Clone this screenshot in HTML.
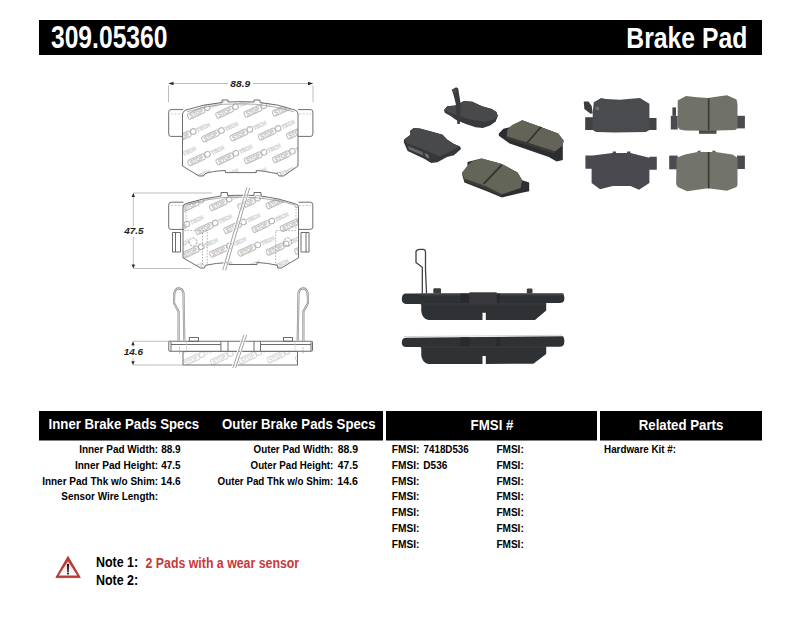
<!DOCTYPE html>
<html><head><meta charset="utf-8"><style>
html,body{margin:0;padding:0;background:#fff;width:800px;height:619px;overflow:hidden}
svg{display:block;font-family:"Liberation Sans", sans-serif}
</style></head><body>
<svg width="800" height="619" viewBox="0 0 800 619">
<rect x="39" y="20" width="723" height="35" fill="#000"/>
<text x="50.93" y="47.50" font-size="31" font-weight="bold" font-style="normal" fill="#fff" textLength="116.58" lengthAdjust="spacingAndGlyphs" >309.05360</text>
<text x="626.35" y="48.00" font-size="29" font-weight="bold" font-style="normal" fill="#fff" textLength="120.98" lengthAdjust="spacingAndGlyphs" >Brake Pad</text>
<rect x="39" y="411" width="344" height="29.5" fill="#000"/>
<rect x="386" y="411" width="211" height="29.5" fill="#000"/>
<rect x="600" y="411" width="162" height="29.5" fill="#000"/>
<text x="48.62" y="429.30" font-size="15.4" font-weight="bold" font-style="normal" fill="#fff" textLength="150.53" lengthAdjust="spacingAndGlyphs" >Inner Brake Pads Specs</text>
<text x="222.06" y="429.30" font-size="15.4" font-weight="bold" font-style="normal" fill="#fff" textLength="153.48" lengthAdjust="spacingAndGlyphs" >Outer Brake Pads Specs</text>
<text x="470.61" y="429.50" font-size="15.4" font-weight="bold" font-style="normal" fill="#fff" textLength="42.80" lengthAdjust="spacingAndGlyphs" >FMSI #</text>
<text x="638.71" y="429.50" font-size="15.4" font-weight="bold" font-style="normal" fill="#fff" textLength="84.63" lengthAdjust="spacingAndGlyphs" >Related Parts</text>
<text x="79.13" y="453.30" font-size="11.6" font-weight="bold" font-style="normal" fill="#000" textLength="79.02" lengthAdjust="spacingAndGlyphs" >Inner Pad Width:</text>
<text x="161.18" y="453.30" font-size="11.6" font-weight="bold" font-style="normal" fill="#000" textLength="19.49" lengthAdjust="spacingAndGlyphs" >88.9</text>
<text x="74.93" y="469.00" font-size="11.6" font-weight="bold" font-style="normal" fill="#000" textLength="83.24" lengthAdjust="spacingAndGlyphs" >Inner Pad Height:</text>
<text x="161.35" y="469.00" font-size="11.6" font-weight="bold" font-style="normal" fill="#000" textLength="19.22" lengthAdjust="spacingAndGlyphs" >47.5</text>
<text x="42.13" y="484.70" font-size="11.6" font-weight="bold" font-style="normal" fill="#000" textLength="116.03" lengthAdjust="spacingAndGlyphs" >Inner Pad Thk w/o Shim:</text>
<text x="160.86" y="484.70" font-size="11.6" font-weight="bold" font-style="normal" fill="#000" textLength="19.81" lengthAdjust="spacingAndGlyphs" >14.6</text>
<text x="61.31" y="500.40" font-size="11.6" font-weight="bold" font-style="normal" fill="#000" textLength="96.84" lengthAdjust="spacingAndGlyphs" >Sensor Wire Length:</text>
<text x="253.60" y="453.30" font-size="11.6" font-weight="bold" font-style="normal" fill="#000" textLength="79.74" lengthAdjust="spacingAndGlyphs" >Outer Pad Width:</text>
<text x="337.67" y="453.30" font-size="11.6" font-weight="bold" font-style="normal" fill="#000" textLength="20.32" lengthAdjust="spacingAndGlyphs" >88.9</text>
<text x="250.60" y="469.00" font-size="11.6" font-weight="bold" font-style="normal" fill="#000" textLength="82.74" lengthAdjust="spacingAndGlyphs" >Outer Pad Height:</text>
<text x="337.84" y="469.00" font-size="11.6" font-weight="bold" font-style="normal" fill="#000" textLength="20.04" lengthAdjust="spacingAndGlyphs" >47.5</text>
<text x="217.60" y="484.70" font-size="11.6" font-weight="bold" font-style="normal" fill="#000" textLength="115.74" lengthAdjust="spacingAndGlyphs" >Outer Pad Thk w/o Shim:</text>
<text x="337.33" y="484.70" font-size="11.6" font-weight="bold" font-style="normal" fill="#000" textLength="20.65" lengthAdjust="spacingAndGlyphs" >14.6</text>
<text x="391.82" y="453.30" font-size="11.6" font-weight="bold" font-style="normal" fill="#000" textLength="27.55" lengthAdjust="spacingAndGlyphs" >FMSI:</text>
<text x="496.43" y="453.30" font-size="11.6" font-weight="bold" font-style="normal" fill="#000" textLength="27.34" lengthAdjust="spacingAndGlyphs" >FMSI:</text>
<text x="391.82" y="469.00" font-size="11.6" font-weight="bold" font-style="normal" fill="#000" textLength="27.55" lengthAdjust="spacingAndGlyphs" >FMSI:</text>
<text x="496.43" y="469.00" font-size="11.6" font-weight="bold" font-style="normal" fill="#000" textLength="27.34" lengthAdjust="spacingAndGlyphs" >FMSI:</text>
<text x="391.82" y="484.70" font-size="11.6" font-weight="bold" font-style="normal" fill="#000" textLength="27.55" lengthAdjust="spacingAndGlyphs" >FMSI:</text>
<text x="496.43" y="484.70" font-size="11.6" font-weight="bold" font-style="normal" fill="#000" textLength="27.34" lengthAdjust="spacingAndGlyphs" >FMSI:</text>
<text x="391.82" y="500.40" font-size="11.6" font-weight="bold" font-style="normal" fill="#000" textLength="27.55" lengthAdjust="spacingAndGlyphs" >FMSI:</text>
<text x="496.43" y="500.40" font-size="11.6" font-weight="bold" font-style="normal" fill="#000" textLength="27.34" lengthAdjust="spacingAndGlyphs" >FMSI:</text>
<text x="391.82" y="516.10" font-size="11.6" font-weight="bold" font-style="normal" fill="#000" textLength="27.55" lengthAdjust="spacingAndGlyphs" >FMSI:</text>
<text x="496.43" y="516.10" font-size="11.6" font-weight="bold" font-style="normal" fill="#000" textLength="27.34" lengthAdjust="spacingAndGlyphs" >FMSI:</text>
<text x="391.82" y="531.80" font-size="11.6" font-weight="bold" font-style="normal" fill="#000" textLength="27.55" lengthAdjust="spacingAndGlyphs" >FMSI:</text>
<text x="496.43" y="531.80" font-size="11.6" font-weight="bold" font-style="normal" fill="#000" textLength="27.34" lengthAdjust="spacingAndGlyphs" >FMSI:</text>
<text x="391.82" y="547.50" font-size="11.6" font-weight="bold" font-style="normal" fill="#000" textLength="27.55" lengthAdjust="spacingAndGlyphs" >FMSI:</text>
<text x="496.43" y="547.50" font-size="11.6" font-weight="bold" font-style="normal" fill="#000" textLength="27.34" lengthAdjust="spacingAndGlyphs" >FMSI:</text>
<text x="423.58" y="453.30" font-size="11.6" font-weight="bold" font-style="normal" fill="#000" textLength="45.17" lengthAdjust="spacingAndGlyphs" >7418D536</text>
<text x="423.33" y="469.00" font-size="11.6" font-weight="bold" font-style="normal" fill="#000" textLength="24.04" lengthAdjust="spacingAndGlyphs" >D536</text>
<text x="604.09" y="453.30" font-size="11.6" font-weight="bold" font-style="normal" fill="#000" textLength="71.85" lengthAdjust="spacingAndGlyphs" >Hardware Kit #:</text>
<text x="95.97" y="566.50" font-size="13.8" font-weight="bold" font-style="normal" fill="#000" textLength="42.23" lengthAdjust="spacingAndGlyphs" >Note 1:</text>
<text x="95.97" y="584.80" font-size="13.8" font-weight="bold" font-style="normal" fill="#000" textLength="42.23" lengthAdjust="spacingAndGlyphs" >Note 2:</text>
<text x="145.57" y="567.50" font-size="13.8" font-weight="bold" font-style="normal" fill="#c8383a" textLength="153.61" lengthAdjust="spacingAndGlyphs" >2 Pads with a wear sensor</text>
<defs><linearGradient id="tri" x1="0" y1="0" x2="0" y2="1"><stop offset="0" stop-color="#e9a9a7"/><stop offset="0.55" stop-color="#fbeeee"/><stop offset="1" stop-color="#ffffff"/></linearGradient></defs>
<path d="M68 556.3 L80.3 577.6 L55.8 577.6 Z" fill="#b93b37" stroke="#b0332f" stroke-width="0.8" stroke-linejoin="round"/>
<path d="M68 561 L77.2 575.4 L58.8 575.4 Z" fill="url(#tri)"/>
<path d="M67 564 L69 564 L68.7 572 L67.3 572 Z" fill="#151515"/>
<rect x="67.1" y="572.6" width="1.8" height="1.8" fill="#151515"/>
<text x="230.37" y="87.00" font-size="8.8" font-weight="bold" font-style="italic" fill="#1e1e1e" textLength="19.88" lengthAdjust="spacingAndGlyphs" >88.9</text>
<text x="124.17" y="234.00" font-size="8.6" font-weight="bold" font-style="italic" fill="#1e1e1e" textLength="19.42" lengthAdjust="spacingAndGlyphs" >47.5</text>
<text x="123.74" y="355.40" font-size="8.9" font-weight="bold" font-style="italic" fill="#1e1e1e" textLength="19.41" lengthAdjust="spacingAndGlyphs" >14.6</text>
<defs>
<g id="wmu">
  <rect x="-9" y="-2.9" width="18" height="5.8" rx="1.6" fill="none" stroke="#bcbcbc" stroke-width="1"/>
  <text x="-7.2" y="2.3" font-size="6.2" font-weight="bold" fill="#c2c2c2" stroke="#c8c8c8" stroke-width="0.3" font-family="Liberation Sans, sans-serif" textLength="14.4" lengthAdjust="spacingAndGlyphs">STOP</text>
  <circle cx="12.3" cy="-0.3" r="2.8" fill="none" stroke="#b2b2b2" stroke-width="1"/>
  <text x="16" y="2.1" font-size="5.6" font-weight="bold" fill="none" stroke="#d6d6d6" stroke-width="0.6" font-family="Liberation Sans, sans-serif" textLength="14" lengthAdjust="spacingAndGlyphs">TECH</text>
</g>
</defs>
<line x1="168.5" y1="85.5" x2="168.5" y2="102" stroke="#bdbdbd" stroke-width="1"/>
<line x1="313" y1="85.5" x2="313" y2="102" stroke="#bdbdbd" stroke-width="1"/>
<line x1="169" y1="83.5" x2="228" y2="83.5" stroke="#bdbdbd" stroke-width="1"/>
<line x1="253" y1="83.5" x2="312.5" y2="83.5" stroke="#bdbdbd" stroke-width="1"/>
<path d="M168.3 83.5 L173.5 81.8 L173.5 85.2 Z" fill="#2a2a2a"/>
<path d="M313.2 83.5 L308 81.8 L308 85.2 Z" fill="#2a2a2a"/>
<clipPath id="c1"><path d="M182.5 166 L182.5 114 Q183 111 186 110 Q204 104 222 102.5 L222 100 L228 100 L228 102 Q241 101.3 254 102 L254 100 L260 100 L260 102.5 Q278 104 295 110 Q298 111 298 114 L298 166 L283.5 176 L279 176 L277.5 173.7 Q264 171 256.3 170.5 L256.3 172.6 L225.4 172.6 L225.4 170.5 Q212 171 205 173.7 L203.5 176 L199 176 Z"/></clipPath>
<g clip-path="url(#c1)">
<use href="#wmu" transform="translate(40.1,48.8) rotate(-25)"/>
<use href="#wmu" transform="translate(54.4,71.6) rotate(-25)"/>
<use href="#wmu" transform="translate(68.7,94.4) rotate(-25)"/>
<use href="#wmu" transform="translate(83.0,117.2) rotate(-25)"/>
<use href="#wmu" transform="translate(97.3,140.0) rotate(-25)"/>
<use href="#wmu" transform="translate(111.6,162.8) rotate(-25)"/>
<use href="#wmu" transform="translate(125.9,185.6) rotate(-25)"/>
<use href="#wmu" transform="translate(140.2,208.4) rotate(-25)"/>
<use href="#wmu" transform="translate(154.5,231.2) rotate(-25)"/>
<use href="#wmu" transform="translate(68.4,47.8) rotate(-25)"/>
<use href="#wmu" transform="translate(82.7,70.6) rotate(-25)"/>
<use href="#wmu" transform="translate(97.0,93.4) rotate(-25)"/>
<use href="#wmu" transform="translate(111.3,116.2) rotate(-25)"/>
<use href="#wmu" transform="translate(125.6,139.0) rotate(-25)"/>
<use href="#wmu" transform="translate(139.9,161.8) rotate(-25)"/>
<use href="#wmu" transform="translate(154.2,184.6) rotate(-25)"/>
<use href="#wmu" transform="translate(168.5,207.4) rotate(-25)"/>
<use href="#wmu" transform="translate(182.8,230.2) rotate(-25)"/>
<use href="#wmu" transform="translate(96.7,46.8) rotate(-25)"/>
<use href="#wmu" transform="translate(111.0,69.6) rotate(-25)"/>
<use href="#wmu" transform="translate(125.3,92.4) rotate(-25)"/>
<use href="#wmu" transform="translate(139.6,115.2) rotate(-25)"/>
<use href="#wmu" transform="translate(153.9,138.0) rotate(-25)"/>
<use href="#wmu" transform="translate(168.2,160.8) rotate(-25)"/>
<use href="#wmu" transform="translate(182.5,183.6) rotate(-25)"/>
<use href="#wmu" transform="translate(196.8,206.4) rotate(-25)"/>
<use href="#wmu" transform="translate(211.1,229.2) rotate(-25)"/>
<use href="#wmu" transform="translate(125.0,45.8) rotate(-25)"/>
<use href="#wmu" transform="translate(139.3,68.6) rotate(-25)"/>
<use href="#wmu" transform="translate(153.6,91.4) rotate(-25)"/>
<use href="#wmu" transform="translate(167.9,114.2) rotate(-25)"/>
<use href="#wmu" transform="translate(182.2,137.0) rotate(-25)"/>
<use href="#wmu" transform="translate(196.5,159.8) rotate(-25)"/>
<use href="#wmu" transform="translate(210.8,182.6) rotate(-25)"/>
<use href="#wmu" transform="translate(225.1,205.4) rotate(-25)"/>
<use href="#wmu" transform="translate(239.4,228.2) rotate(-25)"/>
<use href="#wmu" transform="translate(153.3,44.8) rotate(-25)"/>
<use href="#wmu" transform="translate(167.6,67.6) rotate(-25)"/>
<use href="#wmu" transform="translate(181.9,90.4) rotate(-25)"/>
<use href="#wmu" transform="translate(196.2,113.2) rotate(-25)"/>
<use href="#wmu" transform="translate(210.5,136.0) rotate(-25)"/>
<use href="#wmu" transform="translate(224.8,158.8) rotate(-25)"/>
<use href="#wmu" transform="translate(239.1,181.6) rotate(-25)"/>
<use href="#wmu" transform="translate(253.4,204.4) rotate(-25)"/>
<use href="#wmu" transform="translate(267.7,227.2) rotate(-25)"/>
<use href="#wmu" transform="translate(181.6,43.8) rotate(-25)"/>
<use href="#wmu" transform="translate(195.9,66.6) rotate(-25)"/>
<use href="#wmu" transform="translate(210.2,89.4) rotate(-25)"/>
<use href="#wmu" transform="translate(224.5,112.2) rotate(-25)"/>
<use href="#wmu" transform="translate(238.8,135.0) rotate(-25)"/>
<use href="#wmu" transform="translate(253.1,157.8) rotate(-25)"/>
<use href="#wmu" transform="translate(267.4,180.6) rotate(-25)"/>
<use href="#wmu" transform="translate(281.7,203.4) rotate(-25)"/>
<use href="#wmu" transform="translate(296.0,226.2) rotate(-25)"/>
<use href="#wmu" transform="translate(209.9,42.8) rotate(-25)"/>
<use href="#wmu" transform="translate(224.2,65.6) rotate(-25)"/>
<use href="#wmu" transform="translate(238.5,88.4) rotate(-25)"/>
<use href="#wmu" transform="translate(252.8,111.2) rotate(-25)"/>
<use href="#wmu" transform="translate(267.1,134.0) rotate(-25)"/>
<use href="#wmu" transform="translate(281.4,156.8) rotate(-25)"/>
<use href="#wmu" transform="translate(295.7,179.6) rotate(-25)"/>
<use href="#wmu" transform="translate(310.0,202.4) rotate(-25)"/>
<use href="#wmu" transform="translate(324.3,225.2) rotate(-25)"/>
<use href="#wmu" transform="translate(238.2,41.8) rotate(-25)"/>
<use href="#wmu" transform="translate(252.5,64.6) rotate(-25)"/>
<use href="#wmu" transform="translate(266.8,87.4) rotate(-25)"/>
<use href="#wmu" transform="translate(281.1,110.2) rotate(-25)"/>
<use href="#wmu" transform="translate(295.4,133.0) rotate(-25)"/>
<use href="#wmu" transform="translate(309.7,155.8) rotate(-25)"/>
<use href="#wmu" transform="translate(324.0,178.6) rotate(-25)"/>
<use href="#wmu" transform="translate(338.3,201.4) rotate(-25)"/>
<use href="#wmu" transform="translate(352.6,224.2) rotate(-25)"/>
<use href="#wmu" transform="translate(266.5,40.8) rotate(-25)"/>
<use href="#wmu" transform="translate(280.8,63.6) rotate(-25)"/>
<use href="#wmu" transform="translate(295.1,86.4) rotate(-25)"/>
<use href="#wmu" transform="translate(309.4,109.2) rotate(-25)"/>
<use href="#wmu" transform="translate(323.7,132.0) rotate(-25)"/>
<use href="#wmu" transform="translate(338.0,154.8) rotate(-25)"/>
<use href="#wmu" transform="translate(352.3,177.6) rotate(-25)"/>
<use href="#wmu" transform="translate(366.6,200.4) rotate(-25)"/>
<use href="#wmu" transform="translate(380.9,223.2) rotate(-25)"/>
</g>
<path d="M183 109.6 L171 109.6 Q168.7 109.6 168.7 112 L168.7 134 Q168.7 136.4 171 136.4 L183 136.4" fill="#fff" stroke="#5e5e5e" stroke-width="0.9" fill="none"/>
<path d="M298 109.6 L310.5 109.6 Q312.9 109.6 312.9 112 L312.9 134 Q312.9 136.4 310.5 136.4 L298 136.4" fill="#fff" stroke="#5e5e5e" stroke-width="0.9" fill="none"/>
<path d="M182.5 166 L182.5 114 Q183 111 186 110 Q204 104 222 102.5 L222 100 L228 100 L228 102 Q241 101.3 254 102 L254 100 L260 100 L260 102.5 Q278 104 295 110 Q298 111 298 114 L298 166 L283.5 176 L279 176 L277.5 173.7 Q264 171 256.3 170.5 L256.3 172.6 L225.4 172.6 L225.4 170.5 Q212 171 205 173.7 L203.5 176 L199 176 Z" stroke="#5e5e5e" stroke-width="0.9" fill="none"/>
<path d="M187 111.8 Q205 106.2 223 104.3 Q241 103.4 256 104.3 Q276 106.2 294 111.8" stroke="#8a8a8a" stroke-width="0.7" fill="none"/>
<path d="M171 113.9 L182 113.9 M299 113.9 L311 113.9" stroke="#b5b5b5" stroke-width="0.7" stroke-dasharray="2 1.5"/>
<line x1="133" y1="193" x2="212" y2="193" stroke="#bdbdbd" stroke-width="1"/>
<line x1="133" y1="268.5" x2="191" y2="268.5" stroke="#bdbdbd" stroke-width="1"/>
<line x1="133.3" y1="195" x2="133.3" y2="226" stroke="#bdbdbd" stroke-width="1"/>
<line x1="133.3" y1="237" x2="133.3" y2="266" stroke="#bdbdbd" stroke-width="1"/>
<path d="M133.3 193 L131.6 196.9 L135 196.9 Z" fill="#2a2a2a"/>
<path d="M133.3 268.5 L131.6 264.6 L135 264.6 Z" fill="#2a2a2a"/>
<clipPath id="c2"><path d="M183 257.8 L183 207 Q183 204.5 186 203.5 Q204 198 221 196 L221 192.5 L227.5 192.5 L227.5 195.5 Q241 195 254 195.5 L254 192.5 L261 192.5 L261 196 Q278 198 294.5 203.5 Q298.5 204.5 298.5 207 L298.5 257.8 L281.3 268 L277.8 268 L277.3 265.3 Q268 263 257 262.5 L257 264.5 L228.8 264.5 L228.8 262.5 Q216 263 205.3 265.3 L204.5 268 L200.6 268 Z"/></clipPath>
<g clip-path="url(#c2)">
<use href="#wmu" transform="translate(62.1,140.3) rotate(-25)"/>
<use href="#wmu" transform="translate(76.4,163.1) rotate(-25)"/>
<use href="#wmu" transform="translate(90.7,185.9) rotate(-25)"/>
<use href="#wmu" transform="translate(105.0,208.7) rotate(-25)"/>
<use href="#wmu" transform="translate(119.3,231.5) rotate(-25)"/>
<use href="#wmu" transform="translate(133.6,254.3) rotate(-25)"/>
<use href="#wmu" transform="translate(147.9,277.1) rotate(-25)"/>
<use href="#wmu" transform="translate(162.2,299.9) rotate(-25)"/>
<use href="#wmu" transform="translate(176.5,322.7) rotate(-25)"/>
<use href="#wmu" transform="translate(90.4,139.3) rotate(-25)"/>
<use href="#wmu" transform="translate(104.7,162.1) rotate(-25)"/>
<use href="#wmu" transform="translate(119.0,184.9) rotate(-25)"/>
<use href="#wmu" transform="translate(133.3,207.7) rotate(-25)"/>
<use href="#wmu" transform="translate(147.6,230.5) rotate(-25)"/>
<use href="#wmu" transform="translate(161.9,253.3) rotate(-25)"/>
<use href="#wmu" transform="translate(176.2,276.1) rotate(-25)"/>
<use href="#wmu" transform="translate(190.5,298.9) rotate(-25)"/>
<use href="#wmu" transform="translate(204.8,321.7) rotate(-25)"/>
<use href="#wmu" transform="translate(118.7,138.3) rotate(-25)"/>
<use href="#wmu" transform="translate(133.0,161.1) rotate(-25)"/>
<use href="#wmu" transform="translate(147.3,183.9) rotate(-25)"/>
<use href="#wmu" transform="translate(161.6,206.7) rotate(-25)"/>
<use href="#wmu" transform="translate(175.9,229.5) rotate(-25)"/>
<use href="#wmu" transform="translate(190.2,252.3) rotate(-25)"/>
<use href="#wmu" transform="translate(204.5,275.1) rotate(-25)"/>
<use href="#wmu" transform="translate(218.8,297.9) rotate(-25)"/>
<use href="#wmu" transform="translate(233.1,320.7) rotate(-25)"/>
<use href="#wmu" transform="translate(147.0,137.3) rotate(-25)"/>
<use href="#wmu" transform="translate(161.3,160.1) rotate(-25)"/>
<use href="#wmu" transform="translate(175.6,182.9) rotate(-25)"/>
<use href="#wmu" transform="translate(189.9,205.7) rotate(-25)"/>
<use href="#wmu" transform="translate(204.2,228.5) rotate(-25)"/>
<use href="#wmu" transform="translate(218.5,251.3) rotate(-25)"/>
<use href="#wmu" transform="translate(232.8,274.1) rotate(-25)"/>
<use href="#wmu" transform="translate(247.1,296.9) rotate(-25)"/>
<use href="#wmu" transform="translate(261.4,319.7) rotate(-25)"/>
<use href="#wmu" transform="translate(175.3,136.3) rotate(-25)"/>
<use href="#wmu" transform="translate(189.6,159.1) rotate(-25)"/>
<use href="#wmu" transform="translate(203.9,181.9) rotate(-25)"/>
<use href="#wmu" transform="translate(218.2,204.7) rotate(-25)"/>
<use href="#wmu" transform="translate(232.5,227.5) rotate(-25)"/>
<use href="#wmu" transform="translate(246.8,250.3) rotate(-25)"/>
<use href="#wmu" transform="translate(261.1,273.1) rotate(-25)"/>
<use href="#wmu" transform="translate(275.4,295.9) rotate(-25)"/>
<use href="#wmu" transform="translate(289.7,318.7) rotate(-25)"/>
<use href="#wmu" transform="translate(203.6,135.3) rotate(-25)"/>
<use href="#wmu" transform="translate(217.9,158.1) rotate(-25)"/>
<use href="#wmu" transform="translate(232.2,180.9) rotate(-25)"/>
<use href="#wmu" transform="translate(246.5,203.7) rotate(-25)"/>
<use href="#wmu" transform="translate(260.8,226.5) rotate(-25)"/>
<use href="#wmu" transform="translate(275.1,249.3) rotate(-25)"/>
<use href="#wmu" transform="translate(289.4,272.1) rotate(-25)"/>
<use href="#wmu" transform="translate(303.7,294.9) rotate(-25)"/>
<use href="#wmu" transform="translate(318.0,317.7) rotate(-25)"/>
<use href="#wmu" transform="translate(231.9,134.3) rotate(-25)"/>
<use href="#wmu" transform="translate(246.2,157.1) rotate(-25)"/>
<use href="#wmu" transform="translate(260.5,179.9) rotate(-25)"/>
<use href="#wmu" transform="translate(274.8,202.7) rotate(-25)"/>
<use href="#wmu" transform="translate(289.1,225.5) rotate(-25)"/>
<use href="#wmu" transform="translate(303.4,248.3) rotate(-25)"/>
<use href="#wmu" transform="translate(317.7,271.1) rotate(-25)"/>
<use href="#wmu" transform="translate(332.0,293.9) rotate(-25)"/>
<use href="#wmu" transform="translate(346.3,316.7) rotate(-25)"/>
<use href="#wmu" transform="translate(260.2,133.3) rotate(-25)"/>
<use href="#wmu" transform="translate(274.5,156.1) rotate(-25)"/>
<use href="#wmu" transform="translate(288.8,178.9) rotate(-25)"/>
<use href="#wmu" transform="translate(303.1,201.7) rotate(-25)"/>
<use href="#wmu" transform="translate(317.4,224.5) rotate(-25)"/>
<use href="#wmu" transform="translate(331.7,247.3) rotate(-25)"/>
<use href="#wmu" transform="translate(346.0,270.1) rotate(-25)"/>
<use href="#wmu" transform="translate(360.3,292.9) rotate(-25)"/>
<use href="#wmu" transform="translate(374.6,315.7) rotate(-25)"/>
<use href="#wmu" transform="translate(288.5,132.3) rotate(-25)"/>
<use href="#wmu" transform="translate(302.8,155.1) rotate(-25)"/>
<use href="#wmu" transform="translate(317.1,177.9) rotate(-25)"/>
<use href="#wmu" transform="translate(331.4,200.7) rotate(-25)"/>
<use href="#wmu" transform="translate(345.7,223.5) rotate(-25)"/>
<use href="#wmu" transform="translate(360.0,246.3) rotate(-25)"/>
<use href="#wmu" transform="translate(374.3,269.1) rotate(-25)"/>
<use href="#wmu" transform="translate(388.6,291.9) rotate(-25)"/>
<use href="#wmu" transform="translate(402.9,314.7) rotate(-25)"/>
</g>
<path d="M183.5 202.2 L171.2 202.2 Q168.7 202.2 168.7 204.7 L168.7 227 Q168.7 229.4 171.2 229.4 L183.5 229.4" fill="#fff" stroke="#5e5e5e" stroke-width="0.9" fill="none"/>
<path d="M298.5 202.2 L310.3 202.2 Q312.8 202.2 312.8 204.7 L312.8 227 Q312.8 229.4 310.3 229.4 L298.5 229.4" fill="#fff" stroke="#5e5e5e" stroke-width="0.9" fill="none"/>
<path d="M180.5 232.5 L172.5 232.5 L172.5 252 L180.5 252 Z M175.5 232.5 L175.5 252" stroke="#5e5e5e" stroke-width="0.9" fill="none"/>
<path d="M301 232.5 L309 232.5 L309 252 L301 252 Z M306 232.5 L306 252" stroke="#5e5e5e" stroke-width="0.9" fill="none"/>
<path d="M183 257.8 L183 207 Q183 204.5 186 203.5 Q204 198 221 196 L221 192.5 L227.5 192.5 L227.5 195.5 Q241 195 254 195.5 L254 192.5 L261 192.5 L261 196 Q278 198 294.5 203.5 Q298.5 204.5 298.5 207 L298.5 257.8 L281.3 268 L277.8 268 L277.3 265.3 Q268 263 257 262.5 L257 264.5 L228.8 264.5 L228.8 262.5 Q216 263 205.3 265.3 L204.5 268 L200.6 268 Z" stroke="#5e5e5e" stroke-width="0.9" fill="none"/>
<path d="M184.5 230.6 L207.2 230.6 L207.2 266 M202.5 233 L202.5 266 M275.7 266 L275.7 230.6 L297 230.6" stroke="#a0a0a0" stroke-width="0.8" fill="none" stroke-dasharray="1.6 1.4"/>
<path d="M186 206 L186 230 M296 206 L296 230" stroke="#a8a8a8" stroke-width="0.7" fill="none" stroke-dasharray="1.6 1.4"/>
<path d="M187.5 204.8 Q205 199.2 222.5 197.6 Q241 196.8 254 197.6 Q278 199.6 294 204.8" stroke="#8a8a8a" stroke-width="0.7" fill="none"/>
<path d="M171 205.5 L183 205.5 M299 205.5 L311 205.5" stroke="#b5b5b5" stroke-width="0.7" stroke-dasharray="2 1.5"/>
<circle cx="193.1" cy="242" r="4" stroke="#909090" stroke-width="0.8" fill="none" stroke-dasharray="2.5 1"/>
<circle cx="287.9" cy="242" r="4" stroke="#909090" stroke-width="0.8" fill="none" stroke-dasharray="2.5 1"/>
<path d="M246.5 187.5 L222.5 270 M249.5 188 L225.5 270.5" stroke="#fff" stroke-width="2.2"/>
<path d="M246.8 187.5 L222.8 270 M249.6 188 L225.6 270.5" stroke="#8a8a8a" stroke-width="0.8"/>
<line x1="133" y1="341.25" x2="170" y2="341.25" stroke="#bdbdbd" stroke-width="1"/>
<line x1="133" y1="365" x2="182" y2="365" stroke="#bdbdbd" stroke-width="1"/>
<line x1="133" y1="341.5" x2="133" y2="347" stroke="#bdbdbd" stroke-width="1"/>
<line x1="133" y1="358.5" x2="133" y2="365" stroke="#bdbdbd" stroke-width="1"/>
<path d="M133 341.5 L131.3 345.2 L134.7 345.2 Z" fill="#2a2a2a"/>
<path d="M133 365 L131.3 361.3 L134.7 361.3 Z" fill="#2a2a2a"/>
<g opacity="0.6">
<clipPath id="c3"><path d="M183 351.25 H297.5 V365 H183 Z"/></clipPath>
<g clip-path="url(#c3)">
<use href="#wmu" transform="translate(20.6,272.8) rotate(-25)"/>
<use href="#wmu" transform="translate(34.9,295.6) rotate(-25)"/>
<use href="#wmu" transform="translate(49.2,318.4) rotate(-25)"/>
<use href="#wmu" transform="translate(63.5,341.2) rotate(-25)"/>
<use href="#wmu" transform="translate(77.8,364.0) rotate(-25)"/>
<use href="#wmu" transform="translate(92.1,386.8) rotate(-25)"/>
<use href="#wmu" transform="translate(106.4,409.6) rotate(-25)"/>
<use href="#wmu" transform="translate(120.7,432.4) rotate(-25)"/>
<use href="#wmu" transform="translate(135.0,455.2) rotate(-25)"/>
<use href="#wmu" transform="translate(48.9,271.8) rotate(-25)"/>
<use href="#wmu" transform="translate(63.2,294.6) rotate(-25)"/>
<use href="#wmu" transform="translate(77.5,317.4) rotate(-25)"/>
<use href="#wmu" transform="translate(91.8,340.2) rotate(-25)"/>
<use href="#wmu" transform="translate(106.1,363.0) rotate(-25)"/>
<use href="#wmu" transform="translate(120.4,385.8) rotate(-25)"/>
<use href="#wmu" transform="translate(134.7,408.6) rotate(-25)"/>
<use href="#wmu" transform="translate(149.0,431.4) rotate(-25)"/>
<use href="#wmu" transform="translate(163.3,454.2) rotate(-25)"/>
<use href="#wmu" transform="translate(77.2,270.8) rotate(-25)"/>
<use href="#wmu" transform="translate(91.5,293.6) rotate(-25)"/>
<use href="#wmu" transform="translate(105.8,316.4) rotate(-25)"/>
<use href="#wmu" transform="translate(120.1,339.2) rotate(-25)"/>
<use href="#wmu" transform="translate(134.4,362.0) rotate(-25)"/>
<use href="#wmu" transform="translate(148.7,384.8) rotate(-25)"/>
<use href="#wmu" transform="translate(163.0,407.6) rotate(-25)"/>
<use href="#wmu" transform="translate(177.3,430.4) rotate(-25)"/>
<use href="#wmu" transform="translate(191.6,453.2) rotate(-25)"/>
<use href="#wmu" transform="translate(105.5,269.8) rotate(-25)"/>
<use href="#wmu" transform="translate(119.8,292.6) rotate(-25)"/>
<use href="#wmu" transform="translate(134.1,315.4) rotate(-25)"/>
<use href="#wmu" transform="translate(148.4,338.2) rotate(-25)"/>
<use href="#wmu" transform="translate(162.7,361.0) rotate(-25)"/>
<use href="#wmu" transform="translate(177.0,383.8) rotate(-25)"/>
<use href="#wmu" transform="translate(191.3,406.6) rotate(-25)"/>
<use href="#wmu" transform="translate(205.6,429.4) rotate(-25)"/>
<use href="#wmu" transform="translate(219.9,452.2) rotate(-25)"/>
<use href="#wmu" transform="translate(133.8,268.8) rotate(-25)"/>
<use href="#wmu" transform="translate(148.1,291.6) rotate(-25)"/>
<use href="#wmu" transform="translate(162.4,314.4) rotate(-25)"/>
<use href="#wmu" transform="translate(176.7,337.2) rotate(-25)"/>
<use href="#wmu" transform="translate(191.0,360.0) rotate(-25)"/>
<use href="#wmu" transform="translate(205.3,382.8) rotate(-25)"/>
<use href="#wmu" transform="translate(219.6,405.6) rotate(-25)"/>
<use href="#wmu" transform="translate(233.9,428.4) rotate(-25)"/>
<use href="#wmu" transform="translate(248.2,451.2) rotate(-25)"/>
<use href="#wmu" transform="translate(162.1,267.8) rotate(-25)"/>
<use href="#wmu" transform="translate(176.4,290.6) rotate(-25)"/>
<use href="#wmu" transform="translate(190.7,313.4) rotate(-25)"/>
<use href="#wmu" transform="translate(205.0,336.2) rotate(-25)"/>
<use href="#wmu" transform="translate(219.3,359.0) rotate(-25)"/>
<use href="#wmu" transform="translate(233.6,381.8) rotate(-25)"/>
<use href="#wmu" transform="translate(247.9,404.6) rotate(-25)"/>
<use href="#wmu" transform="translate(262.2,427.4) rotate(-25)"/>
<use href="#wmu" transform="translate(276.5,450.2) rotate(-25)"/>
<use href="#wmu" transform="translate(190.4,266.8) rotate(-25)"/>
<use href="#wmu" transform="translate(204.7,289.6) rotate(-25)"/>
<use href="#wmu" transform="translate(219.0,312.4) rotate(-25)"/>
<use href="#wmu" transform="translate(233.3,335.2) rotate(-25)"/>
<use href="#wmu" transform="translate(247.6,358.0) rotate(-25)"/>
<use href="#wmu" transform="translate(261.9,380.8) rotate(-25)"/>
<use href="#wmu" transform="translate(276.2,403.6) rotate(-25)"/>
<use href="#wmu" transform="translate(290.5,426.4) rotate(-25)"/>
<use href="#wmu" transform="translate(304.8,449.2) rotate(-25)"/>
<use href="#wmu" transform="translate(218.7,265.8) rotate(-25)"/>
<use href="#wmu" transform="translate(233.0,288.6) rotate(-25)"/>
<use href="#wmu" transform="translate(247.3,311.4) rotate(-25)"/>
<use href="#wmu" transform="translate(261.6,334.2) rotate(-25)"/>
<use href="#wmu" transform="translate(275.9,357.0) rotate(-25)"/>
<use href="#wmu" transform="translate(290.2,379.8) rotate(-25)"/>
<use href="#wmu" transform="translate(304.5,402.6) rotate(-25)"/>
<use href="#wmu" transform="translate(318.8,425.4) rotate(-25)"/>
<use href="#wmu" transform="translate(333.1,448.2) rotate(-25)"/>
<use href="#wmu" transform="translate(247.0,264.8) rotate(-25)"/>
<use href="#wmu" transform="translate(261.3,287.6) rotate(-25)"/>
<use href="#wmu" transform="translate(275.6,310.4) rotate(-25)"/>
<use href="#wmu" transform="translate(289.9,333.2) rotate(-25)"/>
<use href="#wmu" transform="translate(304.2,356.0) rotate(-25)"/>
<use href="#wmu" transform="translate(318.5,378.8) rotate(-25)"/>
<use href="#wmu" transform="translate(332.8,401.6) rotate(-25)"/>
<use href="#wmu" transform="translate(347.1,424.4) rotate(-25)"/>
<use href="#wmu" transform="translate(361.4,447.2) rotate(-25)"/>
</g>
</g>
<rect x="183" y="351.25" width="114.5" height="13.75" fill="none" stroke="#5e5e5e" stroke-width="0.9" fill="none"/>
<rect x="168.75" y="341.25" width="143.75" height="10" rx="0.8" fill="#fff" stroke="#5e5e5e" stroke-width="0.9" fill="none"/>
<path d="M171 344.5 L220.9 344.5 M261 344.5 L311 344.5 M171 342 L171 351 M311 342 L311 351 M220.9 341.5 L220.9 351 M228 341.5 L228 351 M254 341.5 L254 351 M260.5 341.5 L260.5 351" stroke="#5e5e5e" stroke-width="0.9" fill="none"/>
<path d="M186.5 342 L186.5 351 M295 342 L295 351" stroke="#c8c8c8" stroke-width="0.7"/>
<path d="M179.5 347 L179.5 353.5 M303 347 L303 353.5" stroke="#999" stroke-width="0.8" stroke-dasharray="1.4 1.2"/>
<rect x="189.3" y="337.5" width="9.2" height="3.75" stroke="#5e5e5e" stroke-width="0.9" fill="none"/>
<rect x="283.5" y="337.5" width="9" height="3.75" stroke="#5e5e5e" stroke-width="0.9" fill="none"/>
<path d="M178.6 341 L178.6 311.5 L174 303 L174.3 293.5 Q175.5 288.4 178.8 288.4 Q182.5 288.6 183.5 293 L184.3 340.5" stroke="#8a8a8a" stroke-width="2.1" fill="none"/>
<path d="M178.6 341 L178.6 311.5 L174 303 L174.3 293.5 Q175.5 288.4 178.8 288.4 Q182.5 288.6 183.5 293 L184.3 340.5" stroke="#fff" stroke-width="0.6" fill="none"/>
<path d="M178.6 341 L178.6 311.5 L174 303 L174.3 293.5 Q175.5 288.4 178.8 288.4 Q182.5 288.6 183.5 293 L184.3 340.5" transform="translate(482,0) scale(-1,1)" stroke="#8a8a8a" stroke-width="2.1" fill="none"/>
<path d="M178.6 341 L178.6 311.5 L174 303 L174.3 293.5 Q175.5 288.4 178.8 288.4 Q182.5 288.6 183.5 293 L184.3 340.5" transform="translate(482,0) scale(-1,1)" stroke="#fff" stroke-width="0.6" fill="none"/>
<path d="M243.5 335 L232.5 368 M246.5 335 L235.5 368" stroke="#fff" stroke-width="2.2"/>
<path d="M243.8 335 L232.8 368 M246.6 335 L235.6 368" stroke="#8a8a8a" stroke-width="0.8"/>
<defs><filter id="soft" x="-10%" y="-10%" width="120%" height="120%"><feGaussianBlur stdDeviation="0.45"/></filter></defs>
<g filter="url(#soft)">
<path d="M413.7 128.1 L419.9 128.6 L434.7 132.5 L442.6 134.7 L447.0 139.5 L454.0 143.9 L460.1 146.5 L461.0 149.1 L454.0 155.2 L447.0 157.0 L437.4 162.2 L431.2 163.1 L424.2 158.7 L407.6 150.9 L403.7 142.1 L404.1 139.5 L410.2 135.1 L410.2 130.7 Z" fill="#36383b" />
<path d="M413.7 128.1 L419.9 128.6 L434.7 132.5 L442.6 134.7 L447.0 139.5 L454.0 143.9 L460.1 146.5 L457.5 147.4 L440.0 156.5 L423.4 149.5 L406.7 143.0 L404.1 139.5 L410.2 135.1 L410.2 130.7 Z" fill="#46484b" />
<path d="M408.0 146.0 L422.5 152.0 L423.5 155.5 L409.0 149.5 Z" fill="#64676a" />
<path d="M424.5 153.0 L428.0 154.5 L429.5 158.5 L426.0 157.0 Z" fill="#717477" />
<path d="M444.0 109.9 L447.3 106.2 L455.3 105.4 L464.2 101.0 L472.3 101.8 L482.0 106.2 L491.7 109.1 L496.5 111.9 L497.8 115.9 L495.7 121.6 L490.1 125.6 L482.8 128.0 L475.5 127.2 L465.8 124.0 L456.2 120.0 L450.5 115.9 L444.8 112.7 Z" fill="#37393c" />
<path d="M444.0 109.9 L447.3 106.2 L455.3 105.4 L464.2 101.0 L472.3 101.8 L482.0 106.2 L491.7 109.1 L496.5 111.9 L497.8 115.9 L493.0 120.0 L484.0 122.0 L470.0 119.5 L456.0 115.0 L449.0 112.5 Z" fill="#46484b" />
<path d="M451.7 89.7 L456.2 87.3 L458.2 88.5 L460.6 103.8 L459.8 124.0 L457.4 124.0 L455.8 103.8 L453.3 94.1 Z" fill="#383a3d" />
<path d="M452.2 90.0 L455.5 88.3 L456.5 92.0 L454.0 94.0 Z" fill="#4a4c4f" />
<path d="M498.8 133.4 L503.4 128.8 L509.7 127.2 L522.2 120.2 L539.4 126.4 L558.1 133.4 L563.6 140.5 L562.8 145.2 L562.8 152.2 L562.8 160.0 L556.6 161.6 L548.8 156.9 L509.7 143.6 L498.8 135.8 Z" fill="#2c2e30" />
<path d="M507.5 129.5 L512.0 125.0 L522.2 120.2 L539.4 126.4 L558.1 133.4 L563.6 140.5 L562.8 145.2 L555.0 151.4 L530.0 143.5 L506.6 136.6 Z" fill="#636458" />
<path d="M540.2 126.6 L541.8 127.3 L527.4 143.8 L525.6 143.2 Z" fill="#33342f" />
<path d="M506.6 136.6 L530.0 143.5 L555.0 151.4 L554.0 153.5 L530.0 146.0 L507.0 139.0 Z" fill="#3a3b36" />
<path d="M467.5 167.8 L467.5 162.0 L475.3 160.0 L481.6 158.4 L501.9 163.9 L517.5 172.5 L522.2 180.3 L529.2 182.5 L529.2 191.2 L520.6 193.0 L501.9 197.5 L486.2 191.0 L464.4 182.5 L462.0 174.0 Z" fill="#2d2f30" />
<path d="M462.0 172.5 L468.0 165.0 L472.2 161.6 L481.6 158.4 L501.9 163.9 L517.5 172.5 L522.2 180.3 L520.6 188.1 L501.9 194.4 L486.2 186.6 L464.4 178.8 Z" fill="#646559" />
<path d="M500.8 164.5 L502.6 165.4 L484.6 184.2 L482.8 183.4 Z" fill="#34352f" />
<path d="M464.4 178.8 L486.2 186.6 L501.9 194.4 L501.0 196.0 L486.0 189.0 L464.0 181.0 Z" fill="#3c3d37" />
<path d="M593.8 102.2 L601.1 98.0 L606.0 99.0 L620.0 99.8 L634.0 98.5 L640.0 98.0 L649.4 103.8 L649.4 118.0 L656.3 118.0 L656.3 130.0 L649.4 130.0 L646.0 132.0 L630.0 132.3 L615.0 132.5 L596.0 132.0 L592.7 130.0 L585.4 130.0 L585.4 117.4 L592.7 117.4 L592.7 113.0 Z" fill="#4a4b4f" />
<path d="M583.8 101.6 L588.5 101.6 L591.7 105.9 L592.7 113.2 L590.6 113.7 L584.3 109.0 Z" fill="#3d3e41" />
<circle cx="597.4" cy="108.5" r="1.9" fill="#6e7073"/>
<path d="M585.4 117.4 L592.7 117.4 L592.7 130.0 L585.4 130.0 Z" fill="#414245" />
<path d="M649.4 118.0 L656.3 118.0 L656.3 130.0 L649.4 130.0 Z" fill="#424346" />
<path d="M670.8 115.8 L677.7 115.8 L677.7 129.5 L670.8 129.5 Z" fill="#4a4b4e" />
<path d="M737.0 115.8 L744.9 115.8 L744.9 128.4 L737.0 128.4 Z" fill="#4a4b4e" />
<path d="M672.4 107.4 L676.0 107.4 L676.0 115.8 L672.4 115.8 Z" fill="#444548" />
<path d="M699.0 129.0 L716.5 129.0 L716.5 133.8 L699.0 133.8 Z" fill="#4a4b4e" />
<path d="M677.7 100.6 L686.0 95.9 L697.0 97.2 L708.1 98.0 L718.0 96.5 L727.0 95.3 L736.5 99.5 L737.5 104.0 L737.5 117.4 L737.5 128.0 L735.4 130.0 L710.0 130.8 L685.0 130.6 L679.8 129.5 L677.7 127.0 Z" fill="#707168" />
<rect x="707.8" y="98.3" width="1.7" height="31.8" fill="#3c3d38"/>
<path d="M585.4 155.6 L592.7 155.6 L612.7 153.0 L612.7 151.4 L616.0 151.4 L616.0 153.0 L627.0 153.0 L627.0 151.4 L630.5 151.4 L630.5 153.0 L649.4 157.7 L649.4 156.7 L656.8 156.7 L656.8 169.8 L649.4 169.8 L649.4 182.9 L639.0 189.7 L630.5 186.0 L612.7 186.0 L600.0 189.2 L591.6 182.9 L591.6 168.7 L585.4 168.7 Z" fill="#4a4a4f" />
<path d="M669.2 155.6 L677.7 155.6 L677.7 169.3 L669.2 169.3 Z" fill="#4b4c4f" />
<path d="M737.0 155.6 L744.9 155.6 L744.9 169.0 L737.0 169.0 Z" fill="#4b4c4f" />
<path d="M697.6 151.0 L700.5 150.5 L700.5 153.0 L697.6 153.0 Z" fill="#505154" />
<path d="M712.5 150.5 L715.5 151.0 L715.5 153.0 L712.5 153.0 Z" fill="#505154" />
<path d="M676.6 157.7 L685.0 154.6 L697.6 151.9 L715.5 151.9 L732.3 154.6 L737.5 157.7 L737.5 185.0 L736.5 187.1 L727.0 190.8 L708.0 188.2 L687.1 191.3 L677.7 187.1 L676.1 184.0 Z" fill="#72736a" />
<rect x="707.8" y="152" width="1.7" height="36.5" fill="#3c3d38"/>
<path d="M406 293.6 L563.2 293.4 Q565 297 564 301 Q563 303.1 560 303.1 L546.2 303.1 L546.2 310.6 L535 320 L485.8 320 L485.8 312.8 L482.5 312.8 L482.5 320 L428.5 320 Q421.8 318.5 421.25 311 L421.25 304 L406 304 Q401.6 303 401.8 298.8 Q402 293.6 406 293.6 Z" fill="#2f3134"/>
<path d="M420.2 293.6 L563.2 293.6 L563.2 295.5 L420.2 295.5 Z" fill="#3f4144"/>
<rect x="460.6" y="293.6" width="8.8" height="10" fill="#292b2e"/><rect x="469.4" y="292.3" width="27.3" height="11.3" fill="#38393c"/><rect x="496.7" y="293.6" width="3.3" height="10" fill="#292b2e"/>
<rect x="420.5" y="303.3" width="125.5" height="1.2" fill="#3a3c3f"/>
<rect x="433.3" y="288.3" width="7.7" height="5.3" rx="1.2" fill="#3a3c3e"/>
<rect x="526.8" y="288.6" width="5.7" height="4.8" rx="1.2" fill="#3a3c3e"/>
<path d="M422.3 293 L422.3 267.3 L416 262.5 L416 251.5 Q416.5 249.3 420 249.3 L423 249.3 Q425.5 249.5 425.5 252 L425.5 270 L426.5 293" stroke="#404245" stroke-width="1.3" fill="none" stroke-linejoin="round"/>
<path d="M406 337.7 L563.2 336.2 Q565 340 564 344 Q563 346.8 560 346.8 L546.2 346.8 L546.2 354 L533.3 363.7 L485.8 364 L485.8 356 L482.5 356 L482.5 364 L428.5 364 Q421.8 362.5 421.25 355 L421.25 347.1 L406 347.1 Q401.6 346.5 401.8 342.3 Q402 337.7 406 337.7 Z" fill="#2f3134"/>
<rect x="460.6" y="337.3" width="8.8" height="9.6" fill="#292b2e"/><rect x="496.7" y="337.0" width="3.3" height="9.6" fill="#292b2e"/>
<rect x="420.5" y="346.5" width="125.5" height="1.2" fill="#3a3c3f"/>
<path d="M404 336.6 L562 335.2" stroke="#c8c8c8" stroke-width="0.8"/>
</g>
</svg></body></html>
